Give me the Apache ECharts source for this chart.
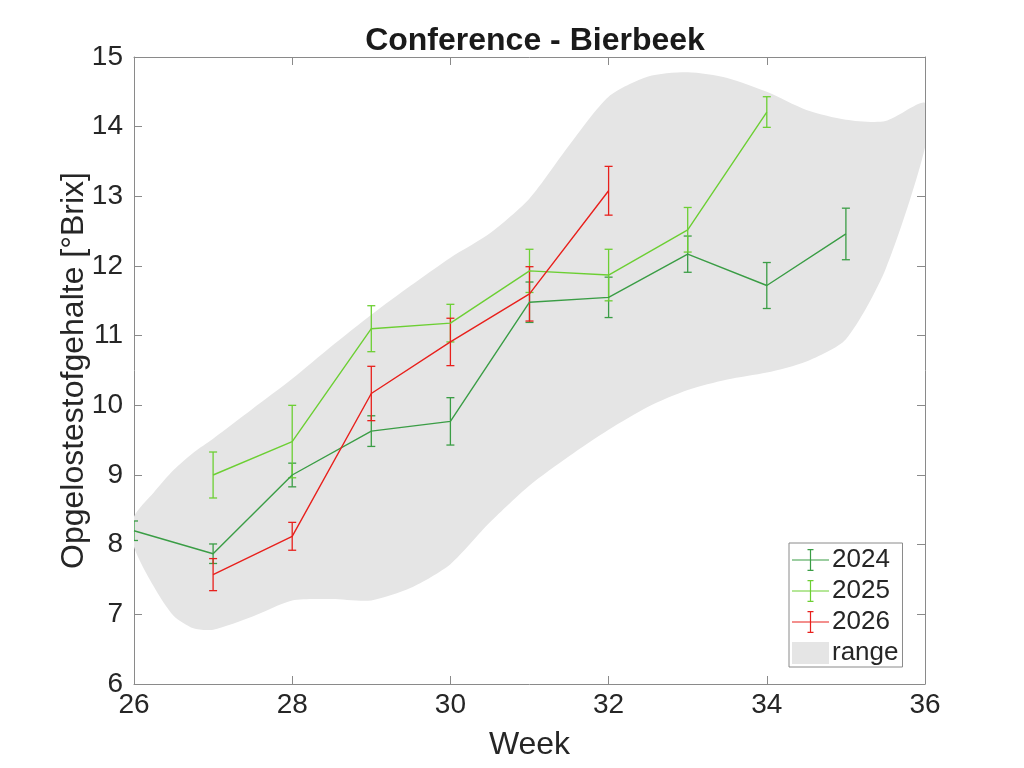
<!DOCTYPE html>
<html>
<head>
<meta charset="utf-8">
<script src="https://cdn.jsdelivr.net/npm/echarts@6/dist/echarts.min.js"></script>
<style>
  html, body { margin: 0; padding: 0; background: #fff; }
  #chart { width: 1024px; height: 768px; }
</style>
</head>
<body>
<div id="chart"></div>
<script>
// gemeten waarden (°Brix) per week, met foutmarge
const weeks2024 = [26, 27, 28, 29, 30, 31, 32, 33, 34, 35];
const brix2024 = [8.2, 7.87, 9.0, 9.63, 9.77, 11.48, 11.55, 12.17, 11.72, 12.46];
const err2024 = [0.14, 0.14, 0.17, 0.22, 0.34, 0.29, 0.29, 0.26, 0.33, 0.37];

const weeks2025 = [27, 28, 29, 30, 31, 32, 33, 34];
const brix2025 = [9.0, 9.48, 11.1, 11.18, 11.93, 11.87, 12.52, 14.21];
const err2025 = [0.33, 0.52, 0.33, 0.27, 0.31, 0.37, 0.32, 0.22];

const weeks2026 = [27, 28, 29, 30, 31, 32];
const brix2026 = [7.57, 8.12, 10.17, 10.91, 11.6, 13.08];
const err2026 = [0.23, 0.2, 0.39, 0.34, 0.39, 0.35];

// historische range (grijze band)
const rangeWeeks = [26, 26.25, 26.5, 26.75, 27, 27.5, 28, 28.5, 29, 29.5, 30, 30.5,
  31, 31.5, 32, 32.5, 33, 33.5, 34, 34.5, 35, 35.5, 36];
const rangeUpper = [8.4, 8.75, 9.07, 9.32, 9.52, 9.95, 10.38, 10.85, 11.3, 11.72, 12.12, 12.47,
  12.97, 13.73, 14.43, 14.72, 14.78, 14.7, 14.5, 14.24, 14.1, 14.08, 14.34];
const rangeLower = [7.97, 7.4, 6.98, 6.8, 6.78, 6.97, 7.2, 7.22, 7.2, 7.38, 7.72, 8.32,
  8.85, 9.27, 9.65, 9.98, 10.22, 10.37, 10.47, 10.63, 10.95, 11.95, 13.7];

const years = ['2024', '2025', '2026'];
const colors = ['#3a9d45', '#6ccf33', '#e8201c'];
const font = 'Liberation Sans, Arial, Helvetica, sans-serif';

const chart = echarts.init(document.getElementById('chart'));

// band als polygoon: bovenrand heen, onderrand terug
let bandData = [];
for (let i = 0; i < rangeWeeks.length; i++) bandData.push([rangeWeeks[i], rangeUpper[i]]);
for (let i = rangeWeeks.length - 1; i >= 0; i--) bandData.push([rangeWeeks[i], rangeLower[i]]);

const errIcon = 'path://M0,10.4H37V11.6H0Z M17.9,0H19.1V22H17.9Z M15.5,0H21.5V1.2H15.5Z M15.5,20.8H21.5V22H15.5Z';

function errorSeries(name, weeks, vals, errs, color) {
  let data = [];
  for (let i = 0; i < weeks.length; i++) {
    data.push([weeks[i], vals[i] - errs[i], vals[i] + errs[i]]);
  }
  return {
    name: name,
    type: 'custom',
    clip: true,
    z: 3,
    itemStyle: { color: color },
    renderItem: (params, api) => {
      const lo = api.coord([api.value(0), api.value(1)]);
      const hi = api.coord([api.value(0), api.value(2)]);
      const w = 4;
      const style = { stroke: color, lineWidth: 1.3, fill: null };
      return {
        type: 'group',
        children: [
          { type: 'line', shape: { x1: lo[0], y1: lo[1], x2: hi[0], y2: hi[1] }, style: style },
          { type: 'line', shape: { x1: lo[0] - w, y1: lo[1], x2: lo[0] + w, y2: lo[1] }, style: style },
          { type: 'line', shape: { x1: hi[0] - w, y1: hi[1], x2: hi[0] + w, y2: hi[1] }, style: style },
        ],
      };
    },
    encode: { x: 0, y: [1, 2] },
    data: data,
  };
}

function lineSeries(name, weeks, vals, color) {
  return {
    name: name,
    type: 'line',
    z: 4,
    showSymbol: false,
    symbol: 'none',
    color: color,
    lineStyle: { color: color, width: 1.4 },
    data: weeks.map((w, i) => [w, vals[i]]),
  };
}

const axisLine = { show: true, lineStyle: { color: '#8a8a8a', width: 1 } };

const option = {
  animation: false,
  backgroundColor: '#fff',
  title: {
    text: 'Conference - Bierbeek',
    left: 530,
    top: 20,
    textAlign: 'center',
    textStyle: { fontFamily: font, fontSize: 32, fontWeight: 'bold', color: '#1a1a1a' },
  },
  grid: { left: 134, right: 99, top: 57, bottom: 84 },
  legend: {
    orient: 'vertical',
    left: 789,
    top: 543,
    padding: [4, 4, 1, 3],
    itemWidth: 37,
    itemHeight: 22,
    itemGap: 5,
    backgroundColor: '#fff',
    borderColor: '#8a8a8a',
    borderWidth: 1,
    borderRadius: 0,
    itemStyle: { borderWidth: 0 },
    textStyle: { fontFamily: font, fontSize: 26, lineHeight: 26, color: '#262626', padding: [0, 0, 0, -2] },
    data: [
      { name: '2024', icon: errIcon },
      { name: '2025', icon: errIcon },
      { name: '2026', icon: errIcon },
      { name: 'range', icon: 'rect' },
    ],
  },
  xAxis: [
    {
      type: 'value',
      min: 26,
      max: 36,
      interval: 2,
      name: 'Week',
      nameLocation: 'middle',
      nameGap: 45,
      nameMoveOverlap: false,
      nameTextStyle: { fontFamily: font, fontSize: 32, color: '#262626' },
      axisLine: axisLine,
      axisTick: { inside: true, length: 8, lineStyle: { color: '#8a8a8a' } },
      axisLabel: { fontFamily: font, fontSize: 28, color: '#262626', margin: 7 },
      splitLine: { show: false },
    },
    {
      type: 'value',
      position: 'top',
      min: 26,
      max: 36,
      interval: 2,
      axisLine: axisLine,
      axisTick: { inside: true, length: 8, lineStyle: { color: '#8a8a8a' } },
      axisLabel: { show: false },
      splitLine: { show: false },
    },
  ],
  yAxis: [
    {
      type: 'value',
      min: 6,
      max: 15,
      interval: 1,
      name: 'Opgelostestofgehalte [°Brix]',
      nameLocation: 'middle',
      nameGap: 44,
      nameMoveOverlap: false,
      nameTextStyle: { fontFamily: font, fontSize: 32, color: '#262626' },
      axisLine: axisLine,
      axisTick: { inside: true, length: 8, lineStyle: { color: '#8a8a8a' } },
      axisLabel: { fontFamily: font, fontSize: 28, color: '#262626', margin: 11 },
      splitLine: { show: false },
    },
    {
      type: 'value',
      position: 'right',
      min: 6,
      max: 15,
      interval: 1,
      axisLine: axisLine,
      axisTick: { inside: true, length: 8, lineStyle: { color: '#8a8a8a' } },
      axisLabel: { show: false },
      splitLine: { show: false },
    },
  ],
  series: [
    {
      name: 'range',
      type: 'custom',
      clip: true,
      z: 1,
      itemStyle: { color: '#e5e5e5' },
      renderItem: (params, api) => {
        if (params.dataIndex !== 0) return null;
        const pts = bandData.map((p) => api.coord(p));
        return {
          type: 'polygon',
          shape: { points: pts, smooth: 0.25 },
          style: { fill: '#e5e5e5', stroke: null },
        };
      },
      data: [[26, 6]],
    },
    lineSeries(years[0], weeks2024, brix2024, colors[0]),
    errorSeries(years[0], weeks2024, brix2024, err2024, colors[0]),
    lineSeries(years[1], weeks2025, brix2025, colors[1]),
    errorSeries(years[1], weeks2025, brix2025, err2025, colors[1]),
    lineSeries(years[2], weeks2026, brix2026, colors[2]),
    errorSeries(years[2], weeks2026, brix2026, err2026, colors[2]),
  ],
};

chart.setOption(option);
</script>
</body>
</html>
